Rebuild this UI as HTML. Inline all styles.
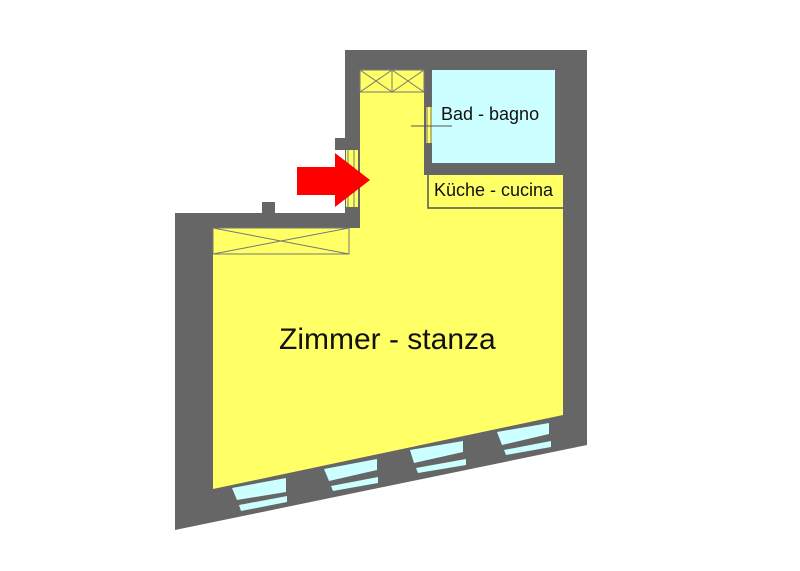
<!DOCTYPE html>
<html><head><style>body{margin:0;background:#fff}svg{display:block}</style></head>
<body>
<svg width="800" height="571" viewBox="0 0 800 571" xmlns="http://www.w3.org/2000/svg">
<polygon points="345,50 587,50 587,445 175,530 175,213 345,213" fill="#666"/>
<polygon points="360,70 424,70 424,175 563,175 563,415 213,489 213,228 360,228" fill="#ffff66"/>
<rect x="432" y="70" width="123" height="93" fill="#ccffff"/>
<rect x="426" y="107" width="6" height="36" fill="#ffff66"/>
<line x1="427" y1="107" x2="427" y2="143" stroke="#777" stroke-width="1"/>
<line x1="431" y1="107" x2="431" y2="143" stroke="#777" stroke-width="1"/>
<line x1="411" y1="126" x2="452" y2="126" stroke="#555" stroke-width="1"/>
<polyline points="428,175 428,208 563,208" fill="none" stroke="#555" stroke-width="1.5"/>
<rect x="360" y="70" width="64" height="22" fill="#ffff66" stroke="#777" stroke-width="1"/>
<line x1="392" y1="70" x2="392" y2="92" stroke="#777"/>
<path d="M360,70 L392,92 M392,70 L360,92 M392,70 L424,92 M424,70 L392,92" stroke="#777" fill="none"/>
<rect x="213" y="228" width="136" height="26" fill="#ffff66" stroke="#777" stroke-width="1"/>
<path d="M213,228 L349,254 M349,228 L213,254" stroke="#777" fill="none"/>
<rect x="335" y="138" width="12" height="12" fill="#666"/>
<rect x="262" y="202" width="13" height="12" fill="#666"/>
<rect x="346" y="150" width="12" height="57" fill="#ffff66"/>
<line x1="348" y1="150" x2="348" y2="207" stroke="#777"/>
<line x1="354" y1="150" x2="354" y2="207" stroke="#777"/>
<polygon points="300,50 345,50 345,138 335,138 335,213 300,213" fill="#fff"/>
<polygon points="297,167 335,167 335,153 370,180 335,207 335,195 297,195" fill="#ff0000"/>
<g fill="#ccffff">
<polygon points="232,488 286,478 286,492 237,500"/>
<polygon points="239,505 287,496 287,502 241,511"/>
<polygon points="324,469 377,459 377,470 329,481"/>
<polygon points="331,486 378,477 378,483 333,491"/>
<polygon points="410,450 463,441 463,452 414,463"/>
<polygon points="416,468 466,459 466,465 418,473"/>
<polygon points="497,432 549,423 549,434 502,445"/>
<polygon points="504,450 551,441 551,447 506,455"/>
</g>
<g font-family="'Liberation Sans', sans-serif" fill="#111">
<text x="279" y="349" font-size="30">Zimmer - stanza</text>
<text x="441" y="120" font-size="18">Bad - bagno</text>
<text x="434" y="196" font-size="18">Küche - cucina</text>
</g>
</svg>
</body></html>
